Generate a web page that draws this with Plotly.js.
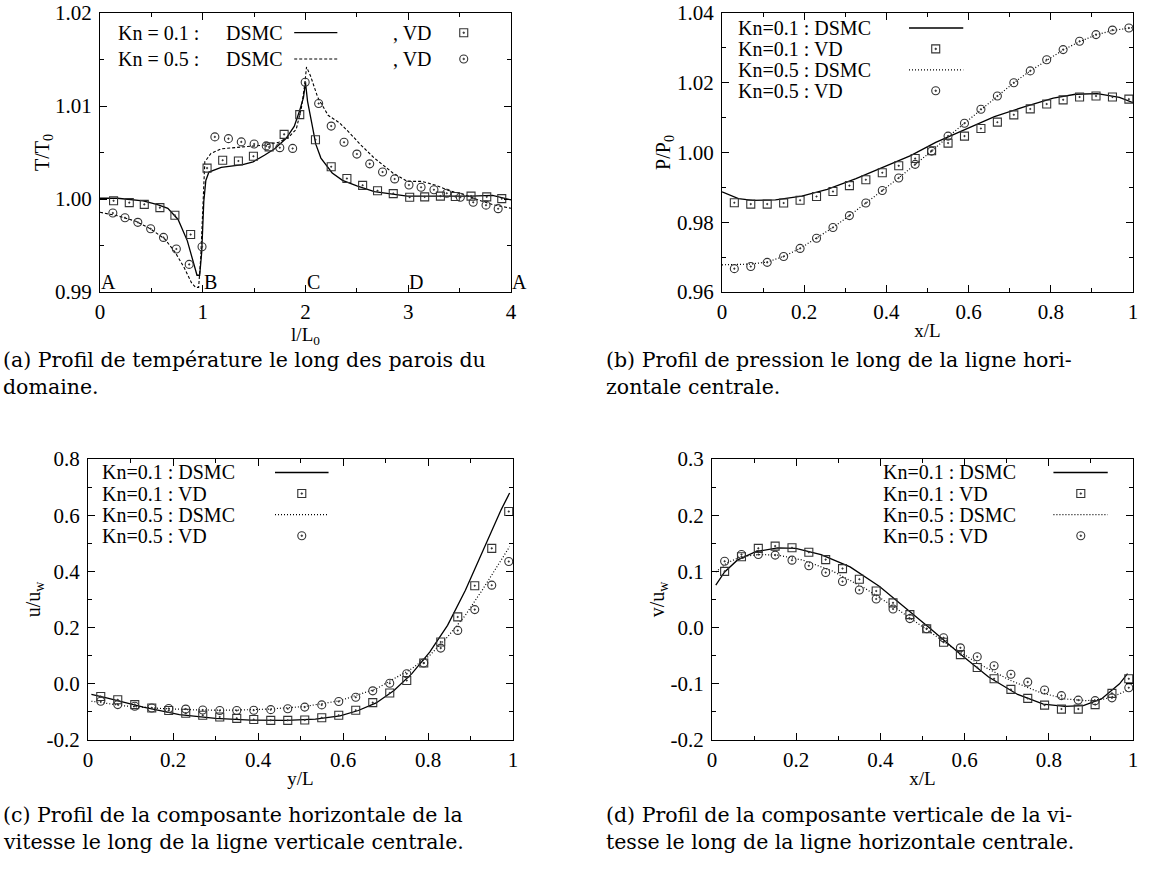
<!DOCTYPE html>
<html>
<head>
<meta charset="utf-8">
<script src="https://cdn.plot.ly/plotly-3.0.1.min.js"></script>
<style>
  html, body { margin: 0; padding: 0; background: #fff; }
  #chart { width: 1174px; height: 874px; }
</style>
</head>
<body>
<div id="chart"></div>
<script>
// ---------------- DATA ----------------
// (a) Temperature along the walls
const aXVD01 = [0.132,0.285,0.431,0.583,0.729,0.882,1.042,1.194,1.347,1.493,1.646,1.792,1.944,2.097,2.25,2.403,2.556,2.701,2.854,3.014,3.16,3.313,3.458,3.611,3.764,3.910];
const aYVD01 = [0.99981,0.99961,0.99942,0.99907,0.99826,0.99618,1.00332,1.00417,1.00409,1.00459,1.00560,1.00695,1.00907,1.00637,1.00347,1.00220,1.00147,1.00089,1.00058,1.00019,1.00023,1.00031,1.00027,1.00031,1.00023,1.00004];
const aXVD05 = [0.125,0.243,0.368,0.493,0.618,0.743,0.868,0.993,1.118,1.25,1.375,1.5,1.618,1.75,1.875,1.997,2.128,2.25,2.375,2.5,2.625,2.75,2.868,3.007,3.125,3.25,3.375,3.507,3.632,3.757,3.875];
const aYVD05 = [0.99849,0.99799,0.99749,0.99680,0.99587,0.99463,0.99297,0.99486,1.00668,1.00649,1.00614,1.00591,1.00571,1.00552,1.00544,1.01255,1.01027,1.00784,1.00610,1.00483,1.00378,1.00290,1.00216,1.00151,1.00127,1.00100,1.00062,1.00019,0.99965,0.99934,0.99896];
const aXDS01 = [0,0.17,0.42,0.56,0.66,0.76,0.85,0.92,0.944,0.97,0.99,1.01,1.03,1.06,1.18,1.39,1.49,1.60,1.70,1.81,1.89,1.94,1.98,2.0,2.02,2.06,2.10,2.15,2.26,2.36,2.5,2.67,2.85,2.99,3.19,3.40,3.61,3.82,4.0];
const aYDS01 = [1.00008,1.00008,0.9998,0.9994,0.9990,0.9978,0.9955,0.9928,0.9918,0.9918,0.9943,0.9997,1.0020,1.0029,1.0034,1.0037,1.0040,1.0047,1.0054,1.0065,1.0078,1.0094,1.0109,1.0125,1.0105,1.0082,1.0059,1.0044,1.0028,1.0020,1.0014,1.0008,1.0005,1.0003,1.0003,1.0003,1.0003,1.0004,0.9999];
const aXDS05 = [0,0.17,0.35,0.49,0.63,0.73,0.82,0.89,0.93,0.96,0.98,1.0,1.02,1.08,1.18,1.39,1.60,1.74,1.84,1.91,1.96,1.99,2.01,2.05,2.12,2.22,2.33,2.43,2.53,2.67,2.85,2.99,3.13,3.26,3.40,3.54,3.68,3.82,4.0];
const aYDS05 = [0.99857,0.9982,0.9976,0.9968,0.9957,0.9943,0.9926,0.9910,0.9905,0.9905,0.9936,0.9997,1.0040,1.0049,1.0054,1.0056,1.0058,1.0061,1.0067,1.0075,1.0098,1.0121,1.0142,1.0132,1.0109,1.0090,1.0082,1.0071,1.0059,1.0044,1.0028,1.0019,1.0019,1.0015,1.0009,1.0005,0.9999,0.9994,0.9990];
const aCorners = ["A","B","C","D","A"];
const aCornerX = [0,1,2,3,4];
const aXTicks = [0,1,2,3,4];
const aXTickText = ["0","1","2","3","4"];
const aYTicks = [0.99,1.00,1.01,1.02];
const aYTickText = ["0.99","1.00","1.01","1.02"];

// (b) Pressure along the horizontal centre line
const bXVD = [0.03,0.07,0.11,0.15,0.19,0.23,0.27,0.31,0.35,0.39,0.43,0.47,0.51,0.55,0.59,0.63,0.67,0.71,0.75,0.79,0.83,0.87,0.91,0.95,0.99];
const bYVD01 = [0.9856,0.9852,0.9852,0.9855,0.9863,0.9874,0.9888,0.9905,0.9922,0.9942,0.9962,0.9983,1.0005,1.0027,1.0047,1.0069,1.0087,1.0108,1.0125,1.0139,1.0151,1.0159,1.0162,1.0159,1.0153];
const bYVD05 = [0.9667,0.9673,0.9685,0.9702,0.9725,0.9754,0.9785,0.9819,0.9855,0.9891,0.9927,0.9966,1.0004,1.0047,1.0084,1.0124,1.0162,1.0200,1.0234,1.0266,1.0295,1.0319,1.0338,1.0351,1.0357];
const bXDS01 = [0,0.04,0.075,0.13,0.194,0.256,0.326,0.397,0.459,0.52,0.592,0.663,0.735,0.806,0.86,0.913,0.967,1.0];
const bYDS01 = [0.9887,0.9868,0.9863,0.9864,0.9875,0.9894,0.9925,0.9960,0.9991,1.0029,1.0067,1.0103,1.0131,1.0156,1.0167,1.0169,1.0158,1.0143];
const bXDS05 = [0,0.03,0.07,0.11,0.15,0.19,0.23,0.27,0.31,0.35,0.39,0.43,0.47,0.51,0.55,0.59,0.63,0.67,0.71,0.75,0.79,0.83,0.87,0.91,0.95,1.0];
const bYDS05 = [0.9678,0.9678,0.9680,0.9686,0.9702,0.9725,0.9754,0.9785,0.9819,0.9855,0.9891,0.9927,0.9966,1.0004,1.0045,1.0084,1.0124,1.0162,1.0200,1.0234,1.0265,1.0294,1.0318,1.0337,1.0350,1.0358];
const bXTicks = [0,0.2,0.4,0.6,0.8,1];
const bXTickText = ["0","0.2","0.4","0.6","0.8","1"];
const bYTicks = [0.96,0.98,1.00,1.02,1.04];
const bYTickText = ["0.96","0.98","1.00","1.02","1.04"];

// (c) Horizontal velocity along the vertical centre line
const cXVD = [0.03,0.07,0.11,0.15,0.19,0.23,0.27,0.31,0.35,0.39,0.43,0.47,0.51,0.55,0.59,0.63,0.67,0.71,0.75,0.79,0.83,0.87,0.91,0.95,0.99];
const cYVD01 = [-0.045,-0.057,-0.074,-0.086,-0.095,-0.105,-0.112,-0.118,-0.123,-0.127,-0.130,-0.130,-0.129,-0.121,-0.112,-0.094,-0.067,-0.033,0.012,0.074,0.149,0.238,0.349,0.482,0.613];
const cYVD05 = [-0.062,-0.074,-0.080,-0.086,-0.088,-0.090,-0.093,-0.095,-0.095,-0.094,-0.092,-0.089,-0.083,-0.075,-0.063,-0.048,-0.025,0.002,0.036,0.074,0.127,0.190,0.264,0.351,0.435];
const cXDS01 = [0.008,0.046,0.13,0.215,0.30,0.383,0.467,0.535,0.593,0.636,0.678,0.72,0.762,0.804,0.846,0.888,0.93,0.972,0.992];
const cYDS01 = [-0.038,-0.051,-0.083,-0.110,-0.123,-0.129,-0.130,-0.126,-0.114,-0.095,-0.068,-0.024,0.036,0.113,0.208,0.333,0.476,0.619,0.679];
const cXDS05 = [0.008,0.088,0.173,0.257,0.341,0.425,0.509,0.593,0.678,0.762,0.804,0.846,0.888,0.93,0.972,0.992];
const cYDS05 = [-0.062,-0.079,-0.088,-0.093,-0.094,-0.090,-0.081,-0.060,-0.018,0.054,0.101,0.167,0.244,0.339,0.440,0.488];
const cXTicks = [0,0.2,0.4,0.6,0.8,1];
const cXTickText = ["0","0.2","0.4","0.6","0.8","1"];
const cYTicks = [-0.2,0,0.2,0.4,0.6,0.8];
const cYTickText = ["-0.2","0.0","0.2","0.4","0.6","0.8"];

// (d) Vertical velocity along the horizontal centre line
const dXVD = [0.03,0.07,0.11,0.15,0.19,0.23,0.27,0.31,0.35,0.39,0.43,0.47,0.51,0.55,0.59,0.63,0.67,0.71,0.75,0.79,0.83,0.87,0.91,0.95,0.99];
const dYVD01 = [0.100,0.126,0.141,0.145,0.142,0.134,0.121,0.105,0.086,0.065,0.044,0.023,-0.002,-0.026,-0.048,-0.071,-0.091,-0.110,-0.126,-0.138,-0.145,-0.145,-0.137,-0.117,-0.091];
const dYVD05 = [0.118,0.130,0.130,0.129,0.120,0.110,0.098,0.082,0.067,0.051,0.033,0.016,-0.002,-0.018,-0.036,-0.052,-0.068,-0.083,-0.097,-0.111,-0.121,-0.129,-0.130,-0.125,-0.107];
const dXDS01 = [0.009,0.03,0.06,0.104,0.156,0.199,0.259,0.328,0.398,0.467,0.519,0.588,0.657,0.726,0.787,0.838,0.882,0.925,0.968,0.987];
const dYDS01 = [0.0756,0.099,0.120,0.135,0.142,0.141,0.130,0.108,0.073,0.031,-0.002,-0.046,-0.088,-0.119,-0.136,-0.140,-0.139,-0.127,-0.100,-0.082];
const dXDS05 = [0.009,0.035,0.069,0.112,0.156,0.216,0.285,0.363,0.432,0.501,0.57,0.64,0.709,0.778,0.838,0.89,0.933,0.968,0.987];
const dYDS05 = [0.099,0.115,0.126,0.130,0.129,0.120,0.101,0.070,0.037,0.001,-0.035,-0.067,-0.094,-0.115,-0.127,-0.130,-0.127,-0.118,-0.111];
const dXTicks = [0,0.2,0.4,0.6,0.8,1];
const dXTickText = ["0","0.2","0.4","0.6","0.8","1"];
const dYTicks = [-0.2,-0.1,0,0.1,0.2,0.3];
const dYTickText = ["-0.2","-0.1","0.0","0.1","0.2","0.3"];

// Legend labels and captions
const aLegendRows = [["Kn = 0.1 :","DSMC",", VD"],["Kn = 0.5 :","DSMC",", VD"]];
const fullLegend = ["Kn=0.1 : DSMC","Kn=0.1 : VD","Kn=0.5 : DSMC","Kn=0.5 : VD"];
const captions = {
  a: ["(a) Profil de température le long des parois du","domaine."],
  b: ["(b) Profil de pression le long de la ligne hori-","zontale centrale."],
  c: ["(c) Profil de la composante horizontale de la","vitesse le long de la ligne verticale centrale."],
  d: ["(d) Profil de la composante verticale de la vi-","tesse le long de la ligne horizontale centrale."]
};

// ---------------- LAYOUT HELPERS ----------------
const W = 1174, H = 874;
const FONT = "Liberation Serif, Times New Roman, serif";
const CAPFONT = "DejaVu Serif, Liberation Serif, serif";
const INK = "#000";
function dx(px0, px1) { return [px0 / W, px1 / W]; }
function dy(py0, py1) { return [1 - py1 / H, 1 - py0 / H]; }

const solid = { color: INK, width: 1.3 };
const dashA = { color: INK, width: 1.1, dash: "3px,2px" };
const dotted = { color: INK, width: 1.2, dash: "1px,2px" };
const sqMarker = { symbol: "square-open-dot", size: 8, color: "#333", line: { width: 1.1, color: "#333" } };
const ciMarker = { symbol: "circle-open-dot", size: 8, color: "#333", line: { width: 1.1, color: "#333" } };

function lineTrace(x, y, line, xa, ya) {
  return { x, y, mode: "lines", line, xaxis: xa, yaxis: ya, showlegend: false, hoverinfo: "skip" };
}
function markTrace(x, y, marker, xa, ya) {
  return { x, y, mode: "markers", marker, xaxis: xa, yaxis: ya, showlegend: false, hoverinfo: "skip" };
}

const traces = [
  lineTrace(aXDS01, aYDS01, solid, "x", "y"),
  lineTrace(aXDS05, aYDS05, dashA, "x", "y"),
  markTrace(aXVD01, aYVD01, sqMarker, "x", "y"),
  markTrace(aXVD05, aYVD05, ciMarker, "x", "y"),

  lineTrace(bXDS01, bYDS01, solid, "x2", "y2"),
  lineTrace(bXDS05, bYDS05, dotted, "x2", "y2"),
  markTrace(bXVD, bYVD01, sqMarker, "x2", "y2"),
  markTrace(bXVD, bYVD05, ciMarker, "x2", "y2"),

  lineTrace(cXDS01, cYDS01, solid, "x3", "y3"),
  lineTrace(cXDS05, cYDS05, dotted, "x3", "y3"),
  markTrace(cXVD, cYVD01, sqMarker, "x3", "y3"),
  markTrace(cXVD, cYVD05, ciMarker, "x3", "y3"),

  lineTrace(dXDS01, dYDS01, solid, "x4", "y4"),
  lineTrace(dXDS05, dYDS05, dotted, "x4", "y4"),
  markTrace(dXVD, dYVD01, sqMarker, "x4", "y4"),
  markTrace(dXVD, dYVD05, ciMarker, "x4", "y4")
];

function axis(domain, range, tickvals, ticktext, minorDtick, title, anchor, isX) {
  return {
    domain, range, anchor,
    tickmode: "array", tickvals, ticktext,
    ticks: "inside", ticklen: 7, tickwidth: 1, tickcolor: INK,
    minor: { dtick: minorDtick, ticks: "inside", ticklen: 4, tickwidth: 1, tickcolor: INK, showgrid: false },
    showline: true, linecolor: INK, linewidth: 1, mirror: "allticks",
    showgrid: false, zeroline: false,
    tickfont: { family: FONT, size: 21, color: INK },
    ticklabelstandoff: isX ? 1 : 3,
    title: { text: title, font: { family: FONT, size: isX ? 19 : 20, color: INK }, standoff: 0 },
    automargin: false, fixedrange: true
  };
}

const layout = {
  width: W, height: H,
  margin: { l: 0, r: 0, t: 0, b: 0 },
  paper_bgcolor: "#fff", plot_bgcolor: "#fff",
  showlegend: false,
  font: { family: FONT, color: INK },
  xaxis:  axis(dx(100, 511), [0, 4], aXTicks, aXTickText, 0.5, "l/L<sub>0</sub>", "y", true),
  yaxis:  axis(dy(13, 292), [0.99, 1.02], aYTicks, aYTickText, 0.005, "T/T<sub>0</sub>", "x", false),
  xaxis2: axis(dx(722, 1133), [0, 1], bXTicks, bXTickText, 0.1, "x/L", "y2", true),
  yaxis2: axis(dy(13, 292), [0.96, 1.04], bYTicks, bYTickText, 0.01, "P/P<sub>0</sub>", "x2", false),
  xaxis3: axis(dx(88, 513), [0, 1], cXTicks, cXTickText, 0.1, "y/L", "y3", true),
  yaxis3: axis(dy(459, 740), [-0.2, 0.8], cYTicks, cYTickText, 0.1, "u/u<sub>w</sub>", "x3", false),
  xaxis4: axis(dx(712, 1133), [0, 1], dXTicks, dXTickText, 0.1, "x/L", "y4", true),
  yaxis4: axis(dy(459, 740), [-0.2, 0.3], dYTicks, dYTickText, 0.05, "v/u<sub>w</sub>", "x4", false),
  annotations: [],
  shapes: []
};

const legFont = { family: FONT, size: 20, color: INK };
function txt(xref, yref, x, y, text, xanchor) {
  layout.annotations.push({ xref, yref, x, y, text, showarrow: false, xanchor: xanchor || "left", yanchor: "middle", font: legFont });
}
function keyLine(xref, yref, x0, x1, y, line) {
  layout.shapes.push({ type: "line", xref, yref, x0, x1, y0: y, y1: y, line });
}
function keyMarker(xref, yref, x, y, kind) {
  layout.shapes.push({ type: kind, xref, yref, xsizemode: "pixel", ysizemode: "pixel", xanchor: x, yanchor: y,
    x0: -4, x1: 4, y0: -4, y1: 4, line: { color: "#333", width: 1.1 } });
  layout.shapes.push({ type: "circle", xref, yref, xsizemode: "pixel", ysizemode: "pixel", xanchor: x, yanchor: y,
    x0: -0.8, x1: 0.8, y0: -0.8, y1: 0.8, line: { color: "#333", width: 0.8 }, fillcolor: "#333" });
}

// (a) legend
const aRowY = [1.01788, 1.01506];
aLegendRows.forEach((row, i) => {
  txt("x", "y", 0.156, aRowY[i], row[0]);
  txt("x", "y", 1.205, aRowY[i], row[1]);
  txt("x", "y", 2.83, aRowY[i], row[2]);
});
keyLine("x", "y", 1.89, 2.31, aRowY[0], solid);
keyLine("x", "y", 1.89, 2.31, aRowY[1], dashA);
keyMarker("x", "y", 3.54, aRowY[0], "rect");
keyMarker("x", "y", 3.54, aRowY[1], "circle");
// corner letters
aCorners.forEach((c, i) => {
  layout.annotations.push({ xref: "x", yref: "y", x: aCornerX[i], y: 0.99, text: c, showarrow: false,
    xanchor: "left", yanchor: "bottom", xshift: -1, yshift: -3, font: legFont });
});

// (b), (c), (d) legends
function fullLeg(xa, ya, tx, rows, lx0, lx1, mx) {
  fullLegend.forEach((t, i) => txt(xa, ya, tx, rows[i], t));
  keyLine(xa, ya, lx0, lx1, rows[0], solid);
  keyMarker(xa, ya, mx, rows[1], "rect");
  keyLine(xa, ya, lx0, lx1, rows[2], dotted);
  keyMarker(xa, ya, mx, rows[3], "circle");
}
fullLeg("x2", "y2", 0.033, [1.0357, 1.0297, 1.0237, 1.0177], 0.455, 0.587, 0.52);
fullLeg("x3", "y3", 0.029, [0.752, 0.677, 0.602, 0.527], 0.44, 0.566, 0.503);
fullLeg("x4", "y4", 0.402, [0.276, 0.2385, 0.201, 0.1635], 0.811, 0.94, 0.876);

// captions
const capFont = { family: CAPFONT, size: 20.5, color: INK };
function caption(xpx, ypx, text) {
  layout.annotations.push({ xref: "paper", yref: "paper", x: xpx / W, y: 1 - ypx / H, text, showarrow: false,
    xanchor: "left", yanchor: "middle", font: capFont });
}
caption(1, 360, captions.a[0]); caption(1, 387, captions.a[1]);
caption(604, 360, captions.b[0]); caption(604, 387, captions.b[1]);
caption(1, 815, captions.c[0]); caption(1, 842, captions.c[1]);
caption(604, 815, captions.d[0]); caption(604, 842, captions.d[1]);

Plotly.newPlot("chart", traces, layout, { staticPlot: true, displayModeBar: false });
</script>
</body>
</html>
